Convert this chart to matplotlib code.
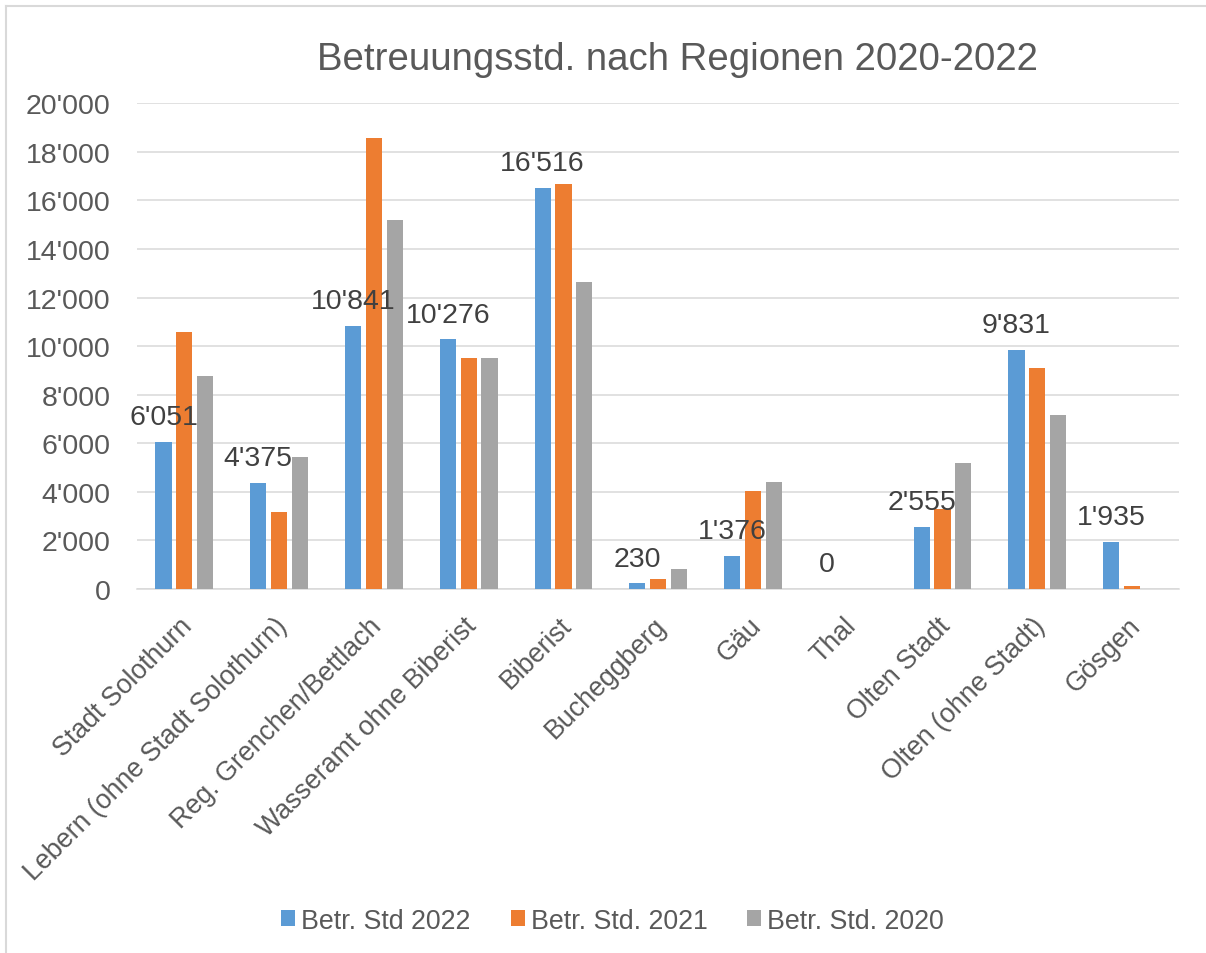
import matplotlib
matplotlib.use("Agg")
import matplotlib.pyplot as plt
import matplotlib.transforms as mtransforms
import numpy as np
from matplotlib.lines import Line2D
from matplotlib.ticker import FuncFormatter

regions = ["Stadt Solothurn", "Lebern (ohne Stadt Solothurn)", "Reg. Grenchen/Bettlach",
           "Wasseramt ohne Biberist", "Biberist", "Bucheggberg", "Gäu", "Thal",
           "Olten Stadt", "Olten (ohne Stadt)", "Gösgen"]
std_2022 = [6051, 4375, 10841, 10276, 16516, 230, 1376, 0, 2555, 9831, 1935]
std_2021 = [10600, 3150, 18560, 9530, 16660, 420, 4020, 0, 3300, 9110, 140]
std_2020 = [8750, 5420, 15180, 9530, 12660, 820, 4400, 0, 5200, 7160, 0]
series_names = ["Betr. Std 2022", "Betr. Std. 2021", "Betr. Std. 2020"]
colors = ["#5B9BD5", "#ED7D31", "#A5A5A5"]

TEXT = "#595959"
GRID = "#D9D9D9"

plt.rcParams['font.family'] = ['Liberation Sans', 'DejaVu Sans']

fig = plt.figure(figsize=(12.06, 9.54), dpi=100)
ax = fig.add_axes([0.1136, 0.3816, 0.978 - 0.1136, 0.8907 - 0.3816])

x = np.arange(len(regions))
step = 0.22
width = 0.17
for i, (vals, name, c) in enumerate(zip([std_2022, std_2021, std_2020], series_names, colors)):
    ax.bar(x + (i - 1) * step, vals, width, color=c, label=name, zorder=3)

# data labels only for 2022
for xi, v in zip(x, std_2022):
    ax.annotate(f"{v:,}".replace(",", "'"), (xi - step, v), xytext=(0, 8.5),
                textcoords="offset points", ha="center", va="bottom",
                fontsize=20.5, color="#404040", zorder=4)

ax.set_xlim(-0.5, len(regions) - 0.5)
ax.set_ylim(0, 20000)
ax.set_yticks(np.arange(0, 20001, 2000))
ax.yaxis.set_major_formatter(FuncFormatter(lambda v, p: f"{int(v):,}".replace(",", "'")))
ax.grid(axis="y", color=GRID, linewidth=1.1, zorder=0)
for s in ["top", "right", "left"]:
    ax.spines[s].set_visible(False)
ax.spines["bottom"].set_color(GRID)
ax.spines["bottom"].set_linewidth(1.1)

ax.tick_params(axis="y", length=0, pad=19, labelsize=20.5, labelcolor=TEXT)
ax.tick_params(axis="x", length=0, pad=6, labelsize=19.3, labelcolor=TEXT)
ax.set_xticks(x)
ax.set_xticklabels(regions, rotation=45, ha="right", rotation_mode="anchor")
shift = mtransforms.ScaledTranslation(-0.05, -0.15, fig.dpi_scale_trans)
for lbl in ax.get_xticklabels():
    lbl.set_transform(lbl.get_transform() + shift)

fig.text(0.562, 0.937, "Betreuungsstd. nach Regionen 2020-2022", ha="center", va="center",
         fontsize=27.6, color=TEXT)

fig.legend(loc="center", bbox_to_anchor=(0.508, 0.034), ncol=3, frameon=False,
           fontsize=19.3, handlelength=0.52, handleheight=0.52, handletextpad=0.22,
           columnspacing=1.5, labelcolor=TEXT)

# chart border (top and left visible)
fig.add_artist(Line2D([0.005, 1.0], [0.993, 0.993], transform=fig.transFigure,
                      color=GRID, linewidth=1.5))
fig.add_artist(Line2D([0.005, 0.005], [0.0, 0.993], transform=fig.transFigure,
                      color=GRID, linewidth=1.5))

fig.savefig("out.png", dpi=100)
